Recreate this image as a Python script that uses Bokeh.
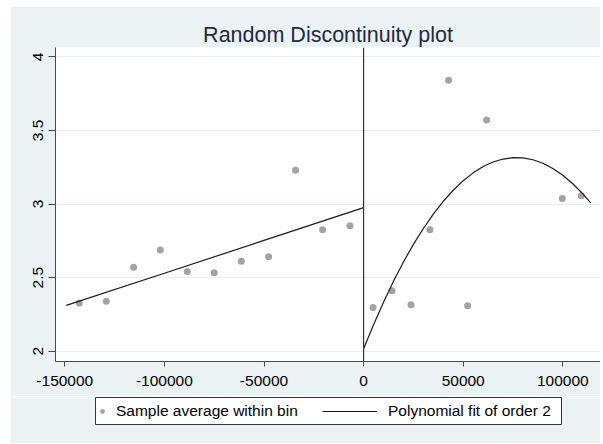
from bokeh.plotting import figure
from bokeh.models import Range1d, FixedTicker, Span, Legend, LegendItem
from bokeh.embed import file_html
from bokeh.resources import INLINE

# ---- data ----
left_bin_x = [-142720, -129170, -115460, -102060, -88500, -74950, -61400, -47690, -34140, -20580, -6830]
left_bin_y = [2.327, 2.340, 2.571, 2.687, 2.542, 2.533, 2.612, 2.642, 3.229, 2.826, 2.853]

right_bin_x = [4720, 14260, 23800, 33300, 42670, 52210, 61750, 99750, 109290]
right_bin_y = [2.297, 2.411, 2.316, 2.826, 3.841, 2.309, 3.571, 3.037, 3.057]

left_fit_x = [-149250, -100000, -50000, 0]
left_fit_y = [2.311, 2.530, 2.753, 2.976]

right_fit_x = [0, 5000, 10000, 15000, 20000, 25000, 30000, 35000, 40000, 45000, 50000, 55000,
               60000, 65000, 70000, 75000, 80000, 85000, 90000, 95000, 100000, 105000, 110000, 114000]
right_fit_y = [2.016, 2.180, 2.333, 2.475, 2.606, 2.726, 2.834, 2.932, 3.019, 3.094, 3.159, 3.212,
               3.255, 3.286, 3.306, 3.315, 3.314, 3.301, 3.277, 3.242, 3.196, 3.138, 3.070, 3.008]

x_ticks = [-150000, -100000, -50000, 0, 50000, 100000]
x_tick_labels = ["-150000", "-100000", "-50000", "0", "50000", "100000"]
y_ticks = [2, 2.5, 3, 3.5, 4]
y_tick_labels = ["2", "2.5", "3", "3.5", "4"]

title_text = "Random Discontinuity plot"
legend_labels = ["Sample average within bin", "Polynomial fit of order 2"]

# ---- styles ----
BG = "#EAF2F3"
DOT = "#A3A3A3"
LINE = "#1a1a1a"
AXIS = "#4a4a4a"
FONT = "Liberation Sans"

p = figure(width=590, height=390,
           x_range=Range1d(-154669, 118926), y_range=Range1d(1.930, 4.064),
           toolbar_location=None, output_backend="svg",
           min_border_left=45, min_border_right=0, min_border_top=41, min_border_bottom=35,
           border_fill_color=BG, background_fill_color="white", outline_line_color=None,
           title=title_text)
p.styles = {"margin-left": "10px", "margin-top": "6px"}

p.title.align = "center"
p.title.text_font = FONT
p.title.text_font_style = "normal"
p.title.text_font_size = "21.5px"
p.title.text_color = "#1E2A44"
p.title.standoff = 2

p.xgrid.visible = False
p.ygrid.grid_line_color = "#E6EFF1"
p.ygrid.grid_line_width = 1
p.ygrid.ticker = FixedTicker(ticks=y_ticks)

p.xaxis.ticker = FixedTicker(ticks=x_ticks)
p.xaxis.major_label_overrides = dict(zip(x_ticks, x_tick_labels))
p.yaxis.ticker = FixedTicker(ticks=y_ticks)
p.yaxis.major_label_overrides = dict(zip(y_ticks, y_tick_labels))
p.yaxis.major_label_orientation = "vertical"

for ax in (p.xaxis, p.yaxis):
    ax.axis_line_color = AXIS
    ax.axis_line_width = 1
    ax.major_tick_line_color = AXIS
    ax.major_tick_in = 0
    ax.minor_tick_line_color = None
    ax.major_label_text_font = FONT
    ax.major_label_text_font_size = "15.5px"
    ax.major_label_text_color = "black"
p.xaxis.major_tick_out = 5
p.yaxis.major_tick_out = 7
p.xaxis.major_label_standoff = 9
p.yaxis.major_label_standoff = 5

p.add_layout(Span(location=0, dimension="height", line_color="#333333", line_width=1.2))

p.scatter(left_bin_x, left_bin_y, size=7, color=DOT, line_color=None)
p.scatter(right_bin_x, right_bin_y, size=7, color=DOT, line_color=None)
p.line(left_fit_x, left_fit_y, line_color=LINE, line_width=1.2)
p.line(right_fit_x, right_fit_y, line_color=LINE, line_width=1.2)

# ---- legend strip (its frame is the legend box; the series are outside its ranges) ----
lg = figure(width=590, height=47, x_range=Range1d(0, 1), y_range=Range1d(0, 1),
            toolbar_location=None, output_backend="svg",
            x_axis_location=None, y_axis_location=None,
            min_border_left=85, min_border_right=39, min_border_top=1, min_border_bottom=19,
            border_fill_color=BG, background_fill_color="white",
            outline_line_color="#333333", outline_line_width=1)
lg.styles = {"margin-left": "10px"}
lg.grid.visible = False
r_dot = lg.scatter(left_bin_x, left_bin_y, color=DOT, line_color=None)
r_line = lg.line(left_fit_x, left_fit_y, line_color=LINE, line_width=1.2)

common = dict(orientation="horizontal", padding=0, margin=0, border_line_color=None,
              background_fill_alpha=0, label_text_font=FONT, label_text_font_size="15.5px",
              label_text_color="black", label_height=18, glyph_height=12)
leg1 = Legend(items=[LegendItem(label=legend_labels[0], renderers=[r_dot])],
              location=(1, 4.5), glyph_width=12, label_standoff=8, **common)
leg2 = Legend(items=[LegendItem(label=legend_labels[1], renderers=[r_line])],
              location=(227, 4.5), glyph_width=55, label_standoff=11, **common)
lg.add_layout(leg1)
lg.add_layout(leg2)

open("out.html", "w").write(file_html([p, lg], INLINE))
